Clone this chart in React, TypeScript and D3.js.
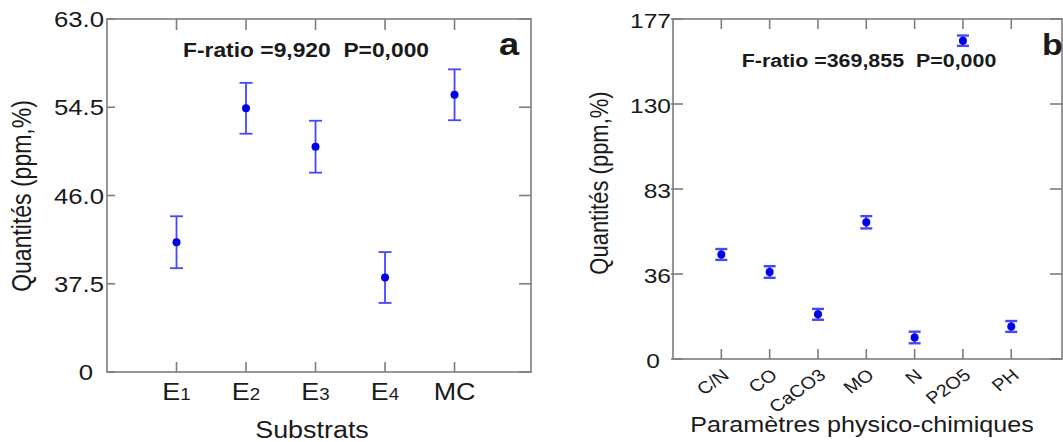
import React from "react";
import * as d3 from "d3";

// ---------- data ----------
const substrats = ["E", "E", "E", "E", "MC"];
const substratSubs = ["1", "2", "3", "4", ""];
const substratMeans = [41.5, 54.4, 50.7, 38.1, 55.7];
const substratErr = [2.5, 2.45, 2.5, 2.45, 2.45];
const ticksA = [29, 37.5, 46, 54.5, 63];
const tickLabelsA = ["0", "37.5", "46.0", "54.5", "63.0"];

const params = ["C/N", "CO", "CaCO3", "MO", "N", "P2O5", "PH"];
const paramMeans = [46.8, 37.1, 13.7, 64.6, 0.9, 165.0, 7.0];
const paramErr = [3.0, 3.2, 3.0, 3.4, 3.2, 2.85, 3.0];
const ticksB = [-11, 36, 83, 130, 177];
const tickLabelsB = ["0", "36", "83", "130", "177"];

const S = 1.17; // horizontal stretch of the original picture
const FONT = "'Liberation Sans', Arial, sans-serif";
const AXIS = "#7d7d7d";
const BAR = "#4646ff";
const DOT = "#0000e6";

type TProps = {
  x: number; y: number; size: number; anchor?: string; bold?: boolean;
  rotate?: number; children: React.ReactNode;
};
const T = ({ x, y, size, anchor = "middle", bold = false, rotate = 0, children }: TProps) => (
  <text
    transform={`translate(${x},${y}) scale(${S},1) rotate(${rotate})`}
    fontFamily={FONT}
    fontSize={size}
    fontWeight={bold ? "bold" : "normal"}
    textAnchor={anchor}
    fill="#1a1a1a"
    style={{ whiteSpace: "pre" }}
  >
    {children}
  </text>
);

export default function App() {
  // panel a scales
  const xA = d3.scaleLinear().domain([0, 6.1]).range([107, 531]);
  const yA = d3.scaleLinear().domain([29, 63]).range([372, 19]);
  // panel b scales
  const xB = d3.scaleLinear().domain([0, 8.05]).range([673, 1062]);
  const yB = d3.scaleLinear().domain([-11, 177]).range([359, 19]);

  const frame = (x0: number, x1: number, y0: number, y1: number) => (
    <rect x={x0} y={y0} width={x1 - x0} height={y1 - y0} fill="none" stroke={AXIS} strokeWidth={1.6} />
  );

  return (
    <svg width={1063} height={442} style={{ position: "absolute", left: 0, top: 0, background: "#fff" }}>
      <rect x={0} y={0} width={1063} height={442} fill="#fff" />

      {/* ================= Panel a ================= */}
      {frame(xA(0), xA(6.1), yA(63), yA(29))}
      {substrats.map((_, i) => (
        <g key={"ta" + i} stroke={AXIS} strokeWidth={1.6}>
          <line x1={xA(i + 1)} x2={xA(i + 1)} y1={yA(29)} y2={yA(29) - 10} />
          <line x1={xA(i + 1)} x2={xA(i + 1)} y1={yA(63)} y2={yA(63) + 11} />
        </g>
      ))}
      {ticksA.map((t, i) => (
        <g key={"tya" + i}>
          <line x1={xA(0)} x2={xA(0) + 8} y1={yA(t)} y2={yA(t)} stroke={AXIS} strokeWidth={1.6} />
          <line x1={xA(6.1)} x2={xA(6.1) - 12} y1={yA(t)} y2={yA(t)} stroke={AXIS} strokeWidth={1.6} />
          <T x={i === 0 ? 93 : 104} y={yA(t) + 8} size={22} anchor="end">{tickLabelsA[i]}</T>
        </g>
      ))}
      {substrats.map((s, i) => (
        <T key={"la" + i} x={xA(i + 1)} y={400} size={23}>
          {s}
          {substratSubs[i] ? <tspan fontSize={16}>{substratSubs[i]}</tspan> : null}
        </T>
      ))}
      {substratMeans.map((m, i) => {
        const cx = xA(i + 1);
        const lo = yA(m - substratErr[i]);
        const hi = yA(m + substratErr[i]);
        return (
          <g key={"pa" + i}>
            <g stroke={BAR} strokeWidth={1.8}>
              <line x1={cx} x2={cx} y1={lo} y2={hi} />
              <line x1={cx - 6.5} x2={cx + 6.5} y1={lo} y2={lo} />
              <line x1={cx - 6.5} x2={cx + 6.5} y1={hi} y2={hi} />
            </g>
            <circle cx={cx} cy={yA(m)} r={4} fill={DOT} />
          </g>
        );
      })}
      <T x={306} y={57} size={19.5} bold>{"F-ratio =9,920  P=0,000"}</T>
      <T x={499} y={55} size={31} bold anchor="start">a</T>
      <T x={312} y={438} size={23}>Substrats</T>
      <T x={30.5} y={196} size={23} rotate={-90}>Quantités (ppm,%)</T>

      {/* ================= Panel b ================= */}
      {frame(xB(0), xB(8.05), yB(177), yB(-11))}
      {params.map((_, i) => (
        <g key={"tb" + i} stroke={AXIS} strokeWidth={1.6}>
          <line x1={xB(i + 1)} x2={xB(i + 1)} y1={yB(-11)} y2={yB(-11) - 10} />
          <line x1={xB(i + 1)} x2={xB(i + 1)} y1={yB(177)} y2={yB(177) + 10} />
        </g>
      ))}
      {ticksB.map((t, i) => (
        <g key={"tyb" + i}>
          <line x1={xB(0) - 2} x2={xB(0) + 10} y1={yB(t)} y2={yB(t)} stroke={AXIS} strokeWidth={1.6} />
          <line x1={xB(8.05)} x2={xB(8.05) - 12} y1={yB(t)} y2={yB(t)} stroke={AXIS} strokeWidth={1.6} />
          <T x={i === 0 ? 660 : 671} y={yB(t) + 9} size={21} anchor="end">{tickLabelsB[i]}</T>
        </g>
      ))}
      {params.map((p, i) => (
        <T key={"lb" + i} x={xB(i + 1) + 9} y={377} size={17} anchor="end" rotate={-40}>{p}</T>
      ))}
      {paramMeans.map((m, i) => {
        const cx = xB(i + 1);
        const lo = yB(m - paramErr[i]);
        const hi = yB(m + paramErr[i]);
        return (
          <g key={"pb" + i}>
            <g stroke={BAR} strokeWidth={2.4}>
              <line x1={cx} x2={cx} y1={lo} y2={hi} />
              <line x1={cx - 6} x2={cx + 6} y1={lo} y2={lo} />
              <line x1={cx - 6} x2={cx + 6} y1={hi} y2={hi} />
            </g>
            <circle cx={cx} cy={yB(m)} r={4} fill={DOT} />
          </g>
        );
      })}
      <T x={869} y={66.5} size={18.3} bold>{"F-ratio =369,855  P=0,000"}</T>
      <T x={1042} y={55} size={29} bold anchor="start">b</T>
      <T x={862} y={432} size={21.5}>Paramètres physico-chimiques</T>
      <T x={608} y={183} size={22} rotate={-90}>Quantités (ppm,%)</T>
    </svg>
  );
}
